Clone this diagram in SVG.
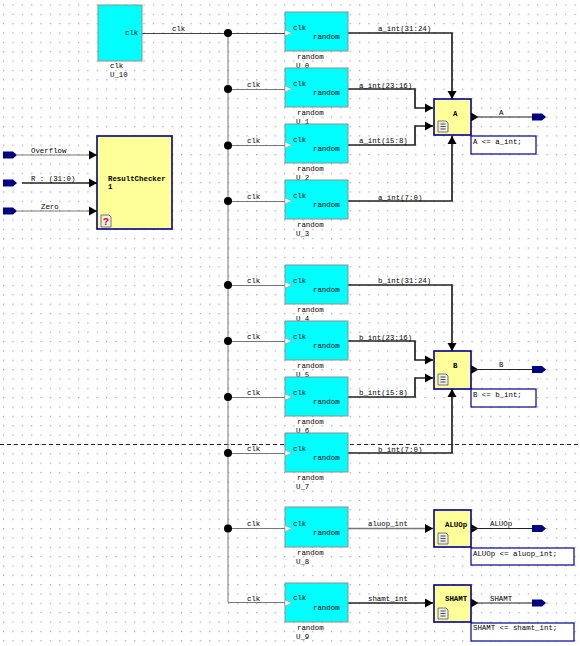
<svg xmlns="http://www.w3.org/2000/svg" width="580" height="646" viewBox="0 0 580 646">
<style>
text{font-family:"Liberation Mono",monospace;font-size:7.4px;fill:#000}
.b{font-weight:bold;fill:#000}
.gen{fill:#00ffff;stroke:#909090;stroke-width:1}
.y{fill:#ffff99;stroke:#000090;stroke-width:1.6}
.note{fill:#fff;stroke:#000090;stroke-width:1.2}
.thin{fill:none;stroke:#444;stroke-width:1}
.sig{fill:none;stroke:#777;stroke-width:1}
.bus{fill:none;stroke:#222;stroke-width:1.7}
.out{fill:none;stroke:#222;stroke-width:1.2}
.clkp{fill:#fff;stroke:#999;stroke-width:.6}
.port{fill:#000080}
.doc{fill:#eee;stroke:#555;stroke-width:.8}
</style>
<defs>
<pattern id="grid" x="3" y="4.4" width="9.37" height="9.35" patternUnits="userSpaceOnUse"><rect x="0" y="0" width="1.2" height="1.2" fill="#a0a0a0"/></pattern>
<marker id="arr" markerUnits="userSpaceOnUse" markerWidth="9" markerHeight="10" refX="8" refY="5" orient="auto"><path d="M0 .5L8 5L0 9.500Z" fill="#000"/></marker>
<g id="clkpin"><path class="clkp" d="M0-3L7 0L0 3Z"/></g>
<path id="portshape" class="port" d="M0-3.500H10L14 0L10 3.500H0Z"/>
<g id="docicon"><path class="doc" d="M0 0H8L10 2V11H0Z"/><path d="M2.500 3H7.500M2.500 5.500H7.500M2.500 8H7.500" stroke="#333" stroke-width=".9" fill="none"/></g>
<circle id="j" r="4" fill="#000"/>
</defs>
<rect width="580" height="646" fill="#fff"/>
<rect width="580" height="646" fill="url(#grid)"/>
<path d="M0 444.500H580" stroke="#222" stroke-width="1" stroke-dasharray="4 3" fill="none"/>

<g id="connectors">
<path class="thin" d="M142 33.500H285"/>
<path class="sig" d="M228 33V602.500H285"/>
<path class="sig" d="M228 89.500H285M228 145.500H285M228 201.500H285M228 285.500H285M228 341.500H285M228 397.500H285M228 453.500H285M228 528.500H285"/>
<use href="#j" x="228" y="33"/><use href="#j" x="228" y="89"/><use href="#j" x="228" y="145.500"/><use href="#j" x="228" y="201"/><use href="#j" x="228" y="285"/><use href="#j" x="228" y="341"/><use href="#j" x="228" y="397"/><use href="#j" x="228" y="453"/><use href="#j" x="228" y="528.500"/>
<path class="bus" d="M348 33H452V99" marker-end="url(#arr)"/>
<path class="bus" d="M348 89H415V108H433" marker-end="url(#arr)"/>
<path class="bus" d="M348 145H415V126H433" marker-end="url(#arr)"/>
<path class="bus" d="M348 201H452V136" marker-end="url(#arr)"/>
<path class="bus" d="M348 285H452V351" marker-end="url(#arr)"/>
<path class="bus" d="M348 341H415V360H433" marker-end="url(#arr)"/>
<path class="bus" d="M348 397H415V378H433" marker-end="url(#arr)"/>
<path class="bus" d="M348 453H452V389" marker-end="url(#arr)"/>
<path class="sig" d="M348 528.500H433" marker-end="url(#arr)" style="stroke-width:1.4"/>
<path class="bus" d="M348 603H433" marker-end="url(#arr)"/>
<path d="M471 112.500L478.500 117L471 121.500ZM471 365L478.500 369.500L471 374ZM471 524L478.500 528.500L471 533ZM471 598.500L478.500 603L471 607.500Z" fill="#000"/>
<path class="out" d="M471 117H532M471 369.500H532M471 528.500H532M471 603H532"/>
<path class="sig" d="M17 155H97" marker-end="url(#arr)"/>
<path class="bus" d="M22 183H97" marker-end="url(#arr)"/>
<path class="sig" d="M17 211H97" marker-end="url(#arr)"/>
<g>
<text x="172" y="31">clk</text>
<text x="247" y="87">clk</text><text x="247" y="143">clk</text><text x="247" y="199">clk</text><text x="247" y="283">clk</text><text x="247" y="339">clk</text><text x="247" y="395">clk</text><text x="247" y="451">clk</text><text x="247" y="526">clk</text><text x="247" y="601">clk</text>
<text x="378" y="31">a_int(31:24)</text><text x="359" y="88">a_int(23:16)</text><text x="359" y="143">a_int(15:8)</text><text x="378" y="200">a_int(7:0)</text>
<text x="378" y="283">b_int(31:24)</text><text x="359" y="340">b_int(23:16)</text><text x="359" y="395">b_int(15:8)</text><text x="378" y="452">b_int(7:0)</text>
<text x="368" y="526">aluop_int</text><text x="368" y="601">shamt_int</text>
<text x="499" y="115">A</text><text x="499" y="367">B</text><text x="490" y="526">ALUOp</text><text x="490" y="601">SHAMT</text>
<text x="31" y="153">Overflow</text><text x="31" y="181">R : (31:0)</text><text x="41" y="209">Zero</text>
</g>
</g>

<g id="U_10"><rect class="gen" x="98" y="5" width="44" height="56"/><text x="125" y="35">clk</text><text x="110" y="68">clk</text><text x="110" y="77">U_10</text></g>

<g id="U_0"><rect class="gen" x="285" y="12" width="63" height="39"/><use href="#clkpin" x="285" y="33"/><text x="293" y="30">clk</text><text x="313" y="39">random</text><text x="297" y="59">random</text><text x="296" y="68">U_0</text></g>
<g id="U_1"><rect class="gen" x="285" y="68" width="63" height="39"/><use href="#clkpin" x="285" y="89"/><text x="293" y="86">clk</text><text x="313" y="95">random</text><text x="297" y="115">random</text><text x="296" y="124">U_1</text></g>
<g id="U_2"><rect class="gen" x="285" y="124" width="63" height="39"/><use href="#clkpin" x="285" y="145"/><text x="293" y="142">clk</text><text x="313" y="151">random</text><text x="297" y="171">random</text><text x="296" y="180">U_2</text></g>
<g id="U_3"><rect class="gen" x="285" y="180" width="63" height="39"/><use href="#clkpin" x="285" y="201"/><text x="293" y="198">clk</text><text x="313" y="207">random</text><text x="297" y="227">random</text><text x="296" y="236">U_3</text></g>
<g id="U_4"><rect class="gen" x="285" y="265" width="63" height="39"/><use href="#clkpin" x="285" y="285"/><text x="293" y="283">clk</text><text x="313" y="292">random</text><text x="297" y="312">random</text><text x="296" y="321">U_4</text></g>
<g id="U_5"><rect class="gen" x="285" y="321" width="63" height="39"/><use href="#clkpin" x="285" y="341"/><text x="293" y="339">clk</text><text x="313" y="348">random</text><text x="297" y="368">random</text><text x="296" y="377">U_5</text></g>
<g id="U_6"><rect class="gen" x="285" y="377" width="63" height="39"/><use href="#clkpin" x="285" y="397"/><text x="293" y="395">clk</text><text x="313" y="404">random</text><text x="297" y="424">random</text><text x="296" y="433">U_6</text></g>
<g id="U_7"><rect class="gen" x="285" y="433" width="63" height="39"/><use href="#clkpin" x="285" y="453"/><text x="293" y="451">clk</text><text x="313" y="460">random</text><text x="297" y="480">random</text><text x="296" y="489">U_7</text></g>
<g id="U_8"><rect class="gen" x="285" y="507" width="63" height="40"/><use href="#clkpin" x="285" y="528.500"/><text x="293" y="526">clk</text><text x="313" y="535">random</text><text x="297" y="555">random</text><text x="296" y="564">U_8</text></g>
<g id="U_9"><rect class="gen" x="285" y="583" width="63" height="39"/><use href="#clkpin" x="285" y="603"/><text x="293" y="600">clk</text><text x="313" y="610">random</text><text x="297" y="630">random</text><text x="296" y="639">U_9</text></g>

<g id="ResultChecker"><rect class="y" x="97" y="136" width="75" height="93"/><text class="b" x="108" y="181">ResultChecker</text><text class="b" x="108" y="189">1</text><path class="doc" d="M101 215H109L111 217V227H101Z"/><text x="103" y="225" style="fill:#e00000;font-weight:bold;font-size:10px">?</text></g>

<g id="A"><rect class="y" x="434" y="99" width="37" height="36"/><text class="b" x="453" y="116">A</text><use href="#docicon" x="438" y="121"/></g>
<g id="A_note"><rect class="note" x="471" y="136" width="65" height="18"/><text x="473" y="144">A &lt;= a_int;</text></g>
<g id="B"><rect class="y" x="434" y="351" width="37" height="38"/><text class="b" x="453" y="368">B</text><use href="#docicon" x="438" y="374"/></g>
<g id="B_note"><rect class="note" x="471" y="389" width="65" height="18"/><text x="473" y="397">B &lt;= b_int;</text></g>
<g id="ALUOp"><rect class="y" x="434" y="510" width="37" height="37"/><text class="b" x="445" y="527">ALUOp</text><use href="#docicon" x="438" y="533"/></g>
<g id="ALUOp_note"><rect class="note" x="471" y="548" width="103" height="17"/><text x="473" y="556">ALUOp &lt;= aluop_int;</text></g>
<g id="SHAMT"><rect class="y" x="434" y="585" width="37" height="37"/><text class="b" x="445" y="601">SHAMT</text><use href="#docicon" x="438" y="608"/></g>
<g id="SHAMT_note"><rect class="note" x="471" y="623" width="103" height="18"/><text x="473" y="630">SHAMT &lt;= shamt_int;</text></g>

<g id="port_A"><use href="#portshape" x="532" y="117"/></g>
<g id="port_B"><use href="#portshape" x="532" y="369.500"/></g>
<g id="port_ALUOp"><use href="#portshape" x="532" y="528.500"/></g>
<g id="port_SHAMT"><use href="#portshape" x="532" y="603"/></g>
<g id="port_Overflow"><use href="#portshape" x="3" y="155"/></g>
<g id="port_R"><use href="#portshape" x="3" y="183"/></g>
<g id="port_Zero"><use href="#portshape" x="3" y="211"/></g>
</svg>
